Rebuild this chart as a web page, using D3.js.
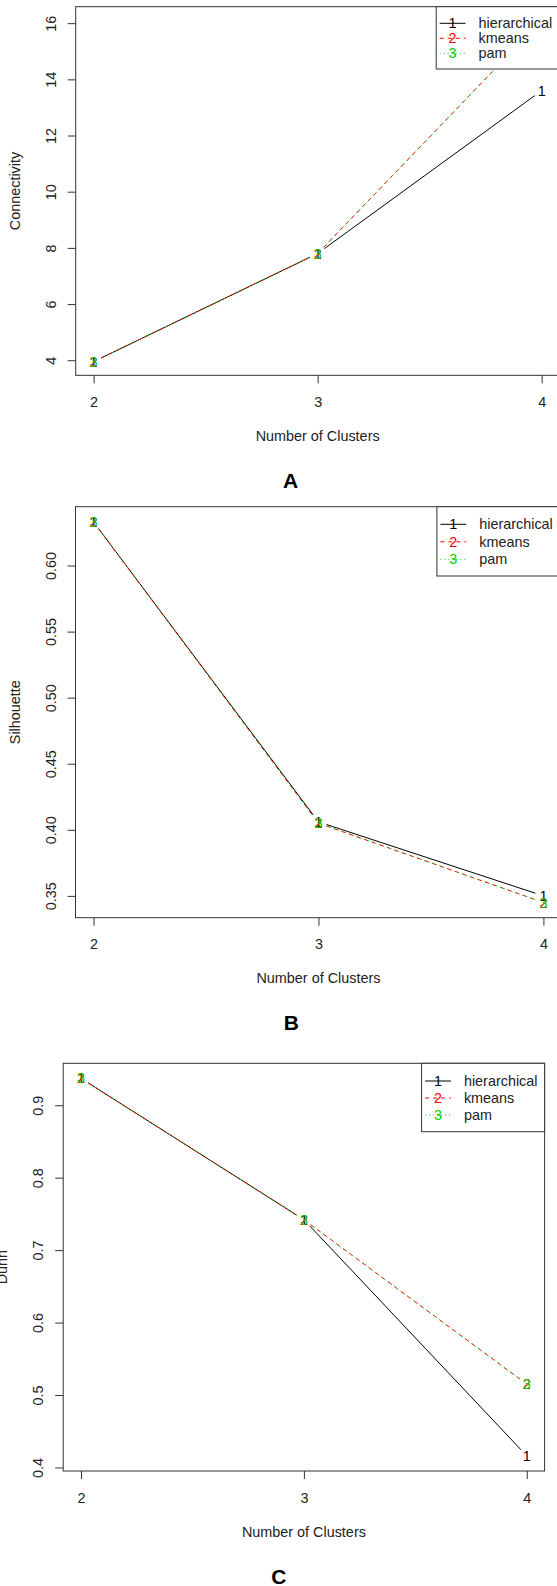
<!DOCTYPE html>
<html>
<head>
<meta charset="utf-8">
<script src="https://cdn.jsdelivr.net/npm/d3@7"></script>
<style>
  html, body { margin: 0; padding: 0; background: #fff; }
  svg { display: block; }
  text { font-family: "Liberation Sans", Arial, Helvetica, sans-serif; }
</style>
</head>
<body>
<svg id="chart" width="557" height="1586"></svg>
<script>
// ---------------- DATA ----------------
const clusters = [2, 3, 4];
const methods = ["hierarchical", "kmeans", "pam"];
const methodCodes = ["1", "2", "3"];

const connectivityHierarchical = [3.95, 7.80, 13.6];
const connectivityKmeans       = [3.95, 7.80, 16.1];
const connectivityPam          = [3.95, 7.80, 16.1];

const silhouetteHierarchical = [0.633, 0.406, 0.350];
const silhouetteKmeans       = [0.633, 0.405, 0.345];
const silhouettePam          = [0.633, 0.405, 0.345];

const dunnHierarchical = [0.937, 0.742, 0.416];
const dunnKmeans       = [0.937, 0.742, 0.515];
const dunnPam          = [0.937, 0.742, 0.515];

const connectivityTicks = [4, 6, 8, 10, 12, 14, 16];
const silhouetteTicks   = [0.35, 0.40, 0.45, 0.50, 0.55, 0.60];
const dunnTicks         = [0.4, 0.5, 0.6, 0.7, 0.8, 0.9];

const xTitle = "Number of Clusters";

// ---------------- STYLE ----------------
const colors = ["#000000", "#FF0000", "#00CD00"];
const dashes = [null, "4,4", "1,3"];
const FS = 14.4;
const AXIS = "#333";

const svg = d3.select("#chart");

function drawPanel(cfg) {
  const g = svg.append("g");
  const x = d3.scaleLinear().domain([1.92, 4.08]).range([cfg.left, cfg.right]);
  const all = cfg.series.flat();
  const lo = d3.min(all), hi = d3.max(all), r = hi - lo;
  const y = d3.scaleLinear().domain([lo - 0.04 * r, hi + 0.04 * r]).range([cfg.bottom, cfg.top]);

  const clipId = "clip" + cfg.letter;
  svg.append("clipPath").attr("id", clipId)
    .append("rect").attr("x", cfg.left).attr("y", cfg.top)
    .attr("width", cfg.right - cfg.left).attr("height", cfg.bottom - cfg.top);

  const plot = g.append("g").attr("clip-path", `url(#${clipId})`);
  const gap = 8.5;

  cfg.series.forEach((vals, si) => {
    const pts = clusters.map((c, i) => [x(c), y(vals[i])]);
    for (let i = 0; i < pts.length - 1; i++) {
      const [x1, y1] = pts[i], [x2, y2] = pts[i + 1];
      const dx = x2 - x1, dy = y2 - y1, L = Math.hypot(dx, dy);
      if (L <= 2 * gap) continue;
      const ux = dx / L, uy = dy / L;
      plot.append("line")
        .attr("x1", x1 + ux * gap).attr("y1", y1 + uy * gap)
        .attr("x2", x2 - ux * gap).attr("y2", y2 - uy * gap)
        .attr("stroke", colors[si]).attr("stroke-width", 1)
        .attr("stroke-dasharray", dashes[si]);
    }
    plot.selectAll(null).data(pts).enter().append("text")
      .attr("x", d => d[0]).attr("y", d => d[1])
      .attr("dy", "0.35em").attr("text-anchor", "middle")
      .attr("font-size", FS).attr("fill", colors[si])
      .text(methodCodes[si]);
  });

  // box
  g.append("rect").attr("x", cfg.left).attr("y", cfg.top)
    .attr("width", cfg.right - cfg.left).attr("height", cfg.bottom - cfg.top)
    .attr("fill", "none").attr("stroke", AXIS).attr("stroke-width", 1);

  // x axis
  const xa = g.append("g").attr("transform", `translate(0,${cfg.bottom})`)
    .call(d3.axisBottom(x).tickValues(clusters).tickSize(8).tickSizeOuter(0).tickPadding(13.5).tickFormat(d3.format("d")));
  xa.select(".domain").remove();
  xa.selectAll("line").attr("stroke", AXIS);
  xa.selectAll("text").attr("font-size", FS).attr("fill", "#222")
    .attr("font-family", '"Liberation Sans", Arial, sans-serif');

  // y axis
  const ya = g.append("g").attr("transform", `translate(${cfg.left},0)`)
    .call(d3.axisLeft(y).tickValues(cfg.ticks).tickSize(8).tickSizeOuter(0).tickFormat(d3.format(cfg.fmt)));
  ya.select(".domain").remove();
  ya.selectAll("line").attr("stroke", AXIS);
  ya.selectAll("text")
    .attr("x", null).attr("dy", "0.35em").attr("text-anchor", "middle")
    .attr("transform", "translate(-25,0) rotate(-90)")
    .attr("font-size", FS).attr("fill", "#222")
    .attr("font-family", '"Liberation Sans", Arial, sans-serif');

  // titles
  g.append("text").attr("x", (cfg.left + cfg.right) / 2).attr("y", cfg.bottom + 60.5)
    .attr("dy", "0.35em").attr("text-anchor", "middle").attr("font-size", FS).attr("fill", "#222")
    .text(xTitle);
  g.append("text")
    .attr("transform", `translate(${cfg.left - 61},${(cfg.top + cfg.bottom) / 2}) rotate(-90)`)
    .attr("dy", "0.35em").attr("text-anchor", "middle").attr("font-size", FS).attr("fill", "#222")
    .text(cfg.yTitle);

  // legend
  const lg = g.append("g").attr("transform", `translate(${cfg.legendLeft},${cfg.top})`);
  lg.append("rect").attr("x", 0).attr("y", 0)
    .attr("width", cfg.right - cfg.legendLeft).attr("height", cfg.legendH)
    .attr("fill", "#fff").attr("stroke", AXIS).attr("stroke-width", 1);
  methods.forEach((m, i) => {
    const yy = cfg.legendRow0 + i * cfg.legendGap;
    lg.append("line").attr("x1", 3.5).attr("x2", 29.3).attr("y1", yy).attr("y2", yy)
      .attr("stroke", colors[i]).attr("stroke-width", 1).attr("stroke-dasharray", dashes[i]);
    lg.append("text").attr("x", 16.3).attr("y", yy).attr("dy", "0.35em")
      .attr("text-anchor", "middle").attr("font-size", FS).attr("fill", colors[i]).text(methodCodes[i]);
    lg.append("text").attr("x", 42.3).attr("y", yy).attr("dy", "0.35em")
      .attr("font-size", FS).attr("fill", "#222").text(m);
  });

  // panel letter
  g.append("text").attr("x", cfg.letterX).attr("y", cfg.letterY).attr("dy", "0.36em")
    .attr("text-anchor", "middle").attr("font-size", 21).attr("font-weight", "bold")
    .attr("font-family", "Lato, 'Open Sans', sans-serif").attr("fill", "#000")
    .text(cfg.letter);
}

drawPanel({
  letter: "A", letterX: 290.6, letterY: 480,
  left: 75.7, right: 559.6, top: 6.7, bottom: 375.3,
  series: [connectivityHierarchical, connectivityKmeans, connectivityPam],
  ticks: connectivityTicks, fmt: "d", yTitle: "Connectivity",
  legendLeft: 436.2, legendH: 62.3, legendRow0: 16.6, legendGap: 15
});

drawPanel({
  letter: "B", letterX: 291.3, letterY: 1022.3,
  left: 75.5, right: 561.4, top: 506.7, bottom: 917.7,
  series: [silhouetteHierarchical, silhouetteKmeans, silhouettePam],
  ticks: silhouetteTicks, fmt: ".2f", yTitle: "Silhouette",
  legendLeft: 436.9, legendH: 69.3, legendRow0: 17.6, legendGap: 17.5
});

drawPanel({
  letter: "C", letterX: 278.8, letterY: 1576,
  left: 63.2, right: 544.6, top: 1063.3, bottom: 1471,
  series: [dunnHierarchical, dunnKmeans, dunnPam],
  ticks: dunnTicks, fmt: ".1f", yTitle: "Dunn",
  legendLeft: 421.6, legendH: 68.4, legendRow0: 17.7, legendGap: 17
});
</script>
</body>
</html>
